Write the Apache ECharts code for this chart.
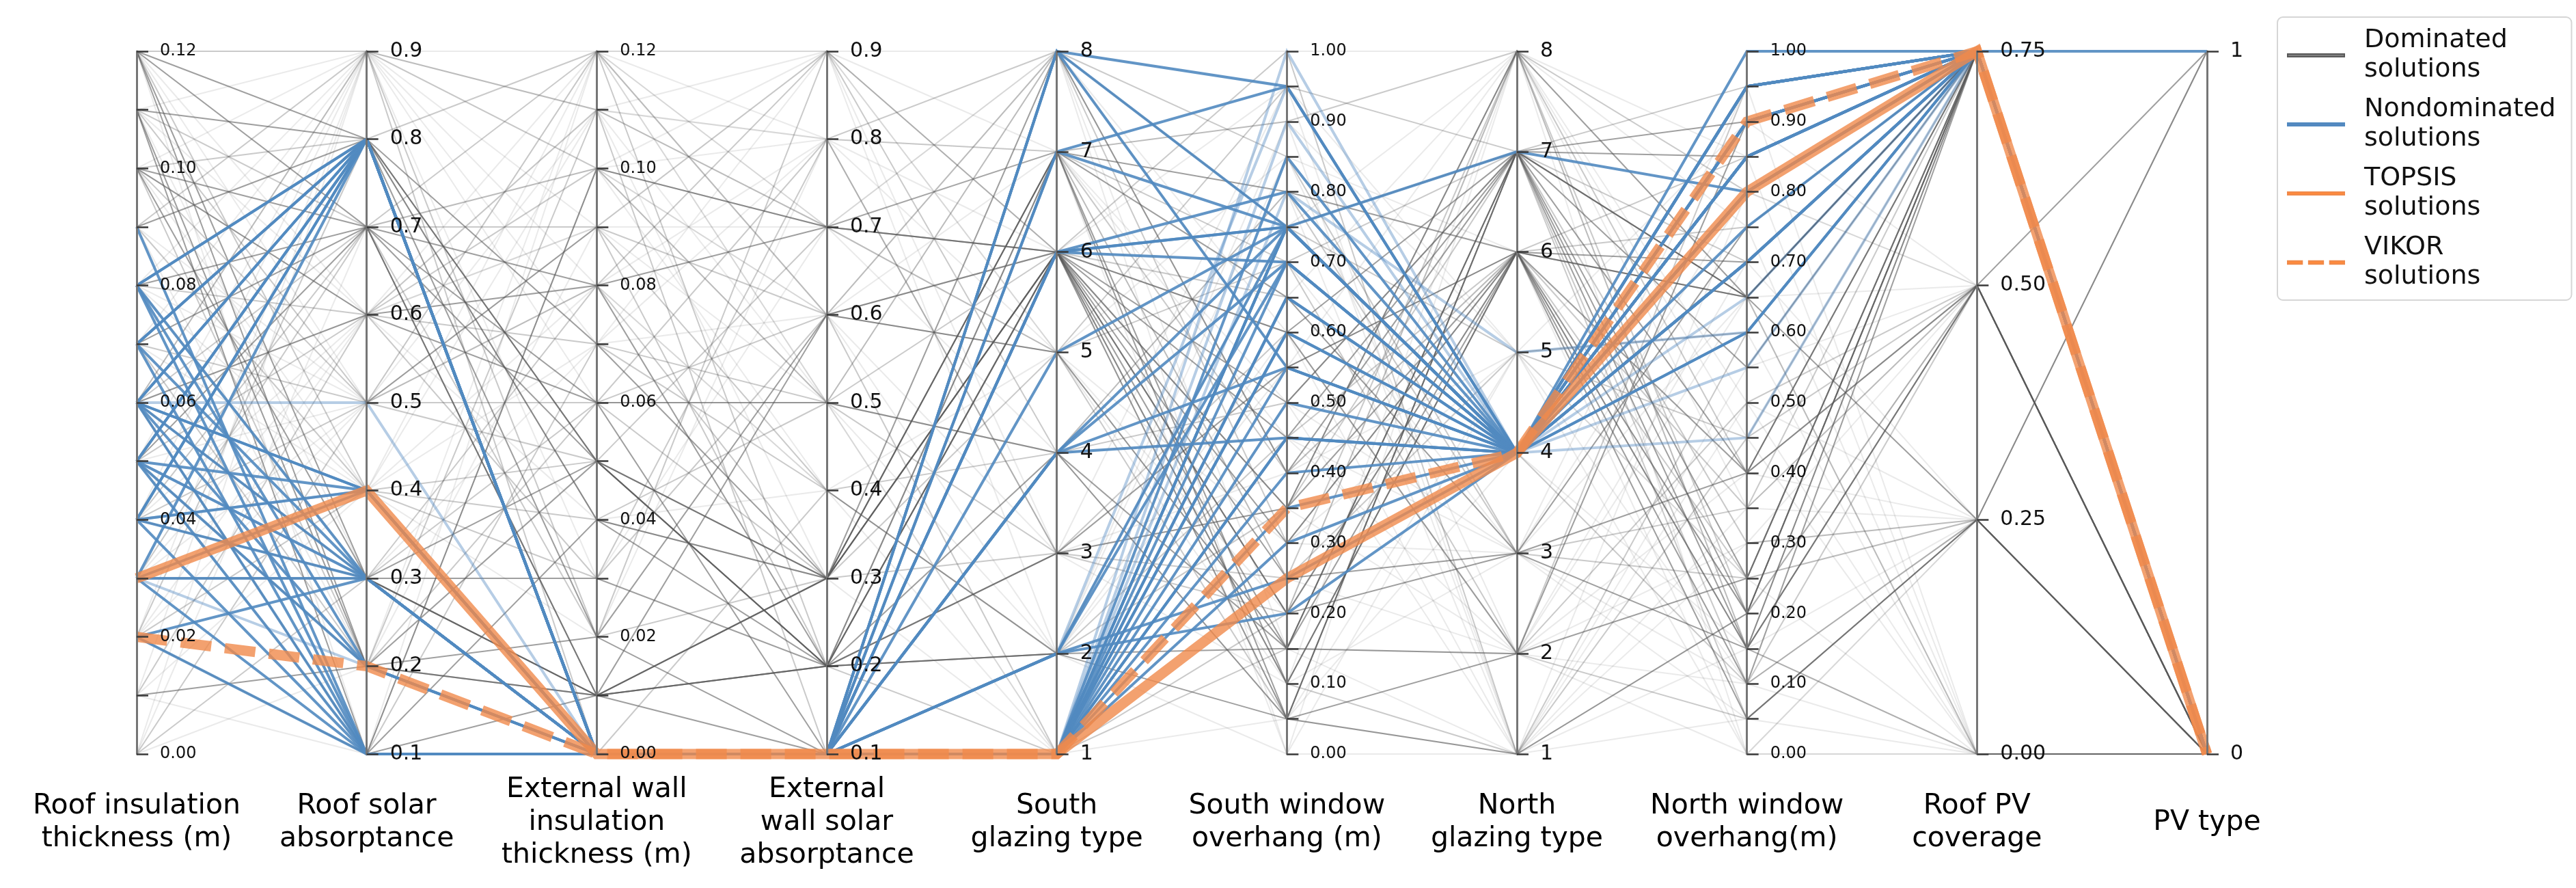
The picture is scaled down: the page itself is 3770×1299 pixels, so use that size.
<!DOCTYPE html>
<html><head><meta charset="utf-8">
<script src="https://cdn.jsdelivr.net/npm/echarts@6/dist/echarts.min.js"></script>
<style>html,body{margin:0;padding:0;background:#fff}#c{width:3770px;height:1299px}</style>
</head><body><div id="c"></div>
<script>
// ---------------- data ----------------
const axisNames = ['Roof insulation\nthickness (m)', 'Roof solar\nabsorptance', 'External wall\ninsulation\nthickness (m)', 'External\nwall solar\nabsorptance', 'South\nglazing type', 'South window\noverhang (m)', 'North\nglazing type', 'North window\noverhang(m)', 'Roof PV\ncoverage', 'PV type'];
const axisMin = [0, 0.1, 0, 0.1, 1, 0, 1, 0, 0, 0];
const axisMax = [0.12, 0.9, 0.12, 0.9, 8, 1, 8, 1, 0.75, 1];
const tickStep = [0.01, 0.1, 0.01, 0.1, 1, 0.05, 1, 0.05, 0.25, 1];
const labelStep = [0.02, 0.1, 0.02, 0.1, 1, 0.1, 1, 0.1, 0.25, 1];
const labelDecimals = [2, 1, 2, 1, 0, 2, 0, 2, 2, 0];
const legendNames = ['Dominated solutions', 'Nondominated solutions', 'TOPSIS solutions', 'VIKOR solutions'];

// each row: roof ins, roof abs, wall ins, wall abs, S glazing, S overhang, N glazing, N overhang, PV coverage, PV type
const topsis = [[0.03, 0.4, 0.00, 0.1, 1, 0.25, 4, 0.80, 0.75, 0]];
const vikor = [[0.02, 0.2, 0.00, 0.1, 1, 0.35, 4, 0.90, 0.75, 0]];

const nondominated = [
  [0.09, 0.1, 0, 0.1, 1, 0.60, 4, 0.95, 0.75, 0],
  [0.08, 0.8, 0, 0.1, 8, 0.95, 4, 1.00, 0.75, 1],
  [0.08, 0.3, 0, 0.1, 1, 0.75, 4, 0.85, 0.75, 0],
  [0.08, 0.2, 0, 0.1, 1, 0.45, 4, 0.70, 0.75, 0],
  [0.08, 0.1, 0, 0.1, 2, 0.75, 4, 0.60, 0.75, 0],
  [0.07, 0.8, 0, 0.1, 7, 0.95, 4, 0.90, 0.75, 0],
  [0.07, 0.1, 0, 0.1, 1, 0.65, 4, 0.80, 0.75, 0],
  [0.07, 0.3, 0, 0.1, 4, 0.70, 4, 0.85, 0.75, 0],
  [0.06, 0.8, 0, 0.1, 6, 0.75, 4, 0.95, 0.75, 0],
  [0.06, 0.8, 0, 0.1, 1, 0.85, 4, 0.80, 0.75, 0],
  [0.06, 0.4, 0, 0.1, 4, 0.55, 4, 0.70, 0.75, 0],
  [0.06, 0.3, 0, 0.1, 1, 0.50, 4, 0.90, 0.75, 0],
  [0.06, 0.2, 0, 0.1, 1, 0.40, 4, 0.85, 0.75, 0],
  [0.06, 0.1, 0, 0.1, 2, 0.20, 4, 0.95, 0.75, 0],
  [0.05, 0.8, 0, 0.1, 8, 0.75, 4, 0.85, 0.75, 0],
  [0.05, 0.4, 0, 0.1, 1, 0.75, 4, 0.80, 0.75, 0],
  [0.05, 0.3, 0, 0.1, 6, 0.70, 4, 0.70, 0.75, 0],
  [0.05, 0.1, 0, 0.1, 1, 0.30, 4, 0.90, 0.75, 0],
  [0.05, 0.2, 0, 0.1, 1, 0.55, 4, 0.60, 0.75, 0],
  [0.04, 0.8, 0, 0.1, 1, 0.75, 7, 0.80, 0.75, 0],
  [0.04, 0.4, 0, 0.1, 5, 0.75, 4, 0.95, 0.75, 0],
  [0.04, 0.3, 0, 0.1, 1, 0.35, 4, 0.85, 0.75, 0],
  [0.04, 0.1, 0, 0.1, 4, 0.45, 4, 0.90, 0.75, 0],
  [0.03, 0.8, 0, 0.1, 7, 0.75, 4, 0.70, 0.75, 0],
  [0.03, 0.3, 0, 0.1, 1, 0.60, 4, 0.95, 0.75, 0],
  [0.03, 0.1, 0, 0.1, 2, 0.25, 4, 0.80, 0.75, 0],
  [0.02, 0.3, 0, 0.1, 1, 0.65, 4, 0.90, 0.75, 0],
  [0.02, 0.1, 0, 0.1, 6, 0.75, 4, 0.85, 0.75, 0],
  [0.07, 0.8, 0, 0.1, 4, 0.75, 4, 0.75, 0.75, 0],
  [0.05, 0.8, 0, 0.1, 1, 0.70, 4, 0.95, 0.75, 0],
  [0.04, 0.8, 0, 0.1, 6, 0.80, 4, 0.85, 0.75, 0],
  [0.06, 0.4, 0, 0.1, 1, 0.45, 4, 0.80, 0.75, 0],
  [0.08, 0.8, 0, 0.1, 8, 0.55, 4, 0.90, 0.75, 0],
  [0.03, 0.4, 0, 0.1, 2, 0.70, 4, 0.70, 0.75, 0]
];
const nondominatedFaint = [
  [0.06, 0.5, 0, 0.1, 1, 0.90, 4, 0.55, 0.75, 0],
  [0.03, 0.2, 0, 0.1, 1, 0.80, 5, 0.60, 0.75, 0],
  [0.05, 0.3, 0, 0.1, 1, 1.00, 4, 0.45, 0.75, 0],
  [0.04, 0.4, 0, 0.1, 2, 0.95, 4, 0.65, 0.75, 0]
];

const dominatedDark = [
  [0.12, 0.8, 0.07, 0.3, 6, 0.15, 7, 0.65, 0.75, 0],
  [0.12, 0.3, 0.05, 0.2, 6, 0.10, 6, 0.40, 0.75, 0],
  [0.12, 0.2, 0.01, 0.2, 7, 0.05, 7, 0.20, 0.75, 0],
  [0.11, 0.8, 0.05, 0.3, 6, 0.30, 6, 0.65, 0.75, 0],
  [0.11, 0.1, 0.10, 0.7, 6, 0.60, 7, 0.15, 0.50, 1],
  [0.10, 0.7, 0.08, 0.7, 6, 0.20, 3, 0.40, 0.75, 0],
  [0.10, 0.3, 0.01, 0.3, 8, 0.75, 7, 0.25, 0.75, 0],
  [0.07, 0.7, 0.01, 0.6, 5, 0.15, 6, 0.10, 0.75, 0],
  [0.07, 0.8, 0.04, 0.2, 3, 0.55, 6, 0.65, 0.25, 1],
  [0.06, 0.6, 0.06, 0.5, 4, 0.15, 7, 0.90, 0.75, 0],
  [0.06, 0.3, 0.03, 0.2, 2, 0.15, 2, 0.25, 0.75, 0],
  [0.05, 0.7, 0.05, 0.3, 7, 0.10, 6, 0.15, 0.75, 0],
  [0.05, 0.2, 0.02, 0.1, 6, 0.45, 7, 0.40, 0.50, 0],
  [0.02, 0.1, 0.01, 0.2, 6, 0.05, 1, 0.20, 0.75, 0],
  [0.03, 0.3, 0.01, 0.3, 7, 0.80, 6, 0.05, 0.25, 0],
  [0.08, 0.7, 0.06, 0.1, 6, 0.25, 3, 0.75, 0.75, 0],
  [0.04, 0.3, 0.01, 0.2, 3, 0.35, 8, 0.65, 0.75, 0],
  [0.12, 0.7, 0.01, 0.3, 6, 0.50, 7, 0.85, 0.75, 0],
  [0.09, 0.8, 0.02, 0.6, 6, 0.35, 6, 0.20, 0.75, 0],
  [0.01, 0.2, 0.05, 0.2, 2, 0.05, 7, 0.65, 0.75, 0],
  [0.06, 0.1, 0.04, 0.3, 7, 0.65, 3, 0.15, 0.50, 0],
  [0.11, 0.2, 0.01, 0.1, 8, 0.40, 7, 0.55, 0.75, 0],
  [0.07, 0.8, 0.05, 0.2, 6, 0.20, 6, 0.70, 0.75, 0],
  [0.10, 0.6, 0.08, 0.2, 4, 0.05, 2, 0.90, 0.75, 0]
];
const dominatedMid = [
  [0.12, 0.9, 0.11, 0.7, 7, 0.90, 8, 0.40, 0.50, 0],
  [0.11, 0.7, 0.09, 0.6, 5, 0.70, 7, 0.30, 0.25, 0],
  [0.10, 0.5, 0.06, 0.8, 8, 0.55, 6, 0.15, 0.75, 0],
  [0.09, 0.4, 0.04, 0.5, 3, 0.25, 5, 0.60, 0.75, 0],
  [0.08, 0.6, 0.07, 0.4, 2, 0.35, 8, 0.20, 0.50, 0],
  [0.07, 0.5, 0.08, 0.9, 6, 0.60, 2, 0.05, 0.25, 0],
  [0.06, 0.7, 0.12, 0.2, 7, 0.40, 6, 0.75, 0.75, 0],
  [0.05, 0.6, 0.03, 0.6, 1, 0.15, 7, 0.95, 0.75, 0],
  [0.04, 0.5, 0.09, 0.4, 4, 0.80, 3, 0.35, 0.50, 0],
  [0.03, 0.7, 0.02, 0.3, 6, 0.10, 1, 0.45, 0.75, 0],
  [0.02, 0.4, 0.05, 0.7, 5, 0.95, 7, 0.65, 0.00, 0],
  [0.01, 0.6, 0.10, 0.5, 8, 0.30, 6, 0.25, 0.75, 0],
  [0.00, 0.3, 0.06, 0.3, 6, 0.65, 4, 0.10, 0.25, 0],
  [0.12, 0.4, 0.03, 0.8, 3, 0.20, 8, 0.80, 0.75, 0],
  [0.10, 0.2, 0.11, 0.1, 7, 0.70, 2, 0.50, 0.50, 0],
  [0.09, 0.9, 0.00, 0.4, 2, 0.45, 6, 0.35, 0.75, 0],
  [0.08, 0.3, 0.08, 0.3, 5, 0.05, 7, 0.70, 0.75, 0],
  [0.07, 0.2, 0.06, 0.6, 8, 0.85, 3, 0.25, 0.25, 1],
  [0.06, 0.9, 0.02, 0.9, 4, 0.50, 7, 0.10, 0.50, 0],
  [0.05, 0.1, 0.07, 0.5, 6, 1.00, 1, 0.60, 0.75, 0],
  [0.11, 0.5, 0.05, 0.2, 1, 0.20, 6, 0.85, 0.75, 0],
  [0.04, 0.7, 0.10, 0.7, 7, 0.25, 8, 0.15, 0.00, 0],
  [0.02, 0.8, 0.04, 0.3, 3, 0.60, 2, 0.95, 0.75, 0],
  [0.10, 0.8, 0.12, 0.6, 6, 0.35, 7, 0.05, 0.25, 0],
  [0.00, 0.5, 0.09, 0.2, 2, 0.75, 5, 0.45, 0.50, 0]
];
const dominatedFaint = [
  [0.12, 0.5, 0.12, 0.9, 8, 1.00, 8, 0.00, 0.00, 0],
  [0.11, 0.9, 0.10, 0.8, 7, 0.50, 1, 0.30, 0.25, 0],
  [0.10, 0.6, 0.12, 0.5, 2, 0.00, 5, 0.90, 0.50, 0],
  [0.09, 0.2, 0.09, 0.9, 5, 0.85, 2, 0.10, 0.00, 0],
  [0.08, 0.9, 0.11, 0.3, 1, 0.65, 8, 0.50, 0.25, 0],
  [0.07, 0.4, 0.07, 0.8, 3, 0.10, 3, 0.80, 0.50, 0],
  [0.06, 0.1, 0.12, 0.6, 8, 0.40, 6, 0.00, 0.00, 0],
  [0.05, 0.9, 0.08, 0.4, 2, 0.90, 1, 0.35, 0.25, 0],
  [0.04, 0.6, 0.11, 0.7, 5, 0.20, 8, 0.15, 0.00, 0],
  [0.03, 0.5, 0.09, 0.9, 7, 0.45, 2, 0.65, 0.50, 0],
  [0.02, 0.9, 0.12, 0.5, 4, 0.05, 5, 0.25, 0.25, 0],
  [0.01, 0.4, 0.08, 0.8, 6, 0.70, 3, 0.05, 0.00, 0],
  [0.00, 0.7, 0.10, 0.6, 3, 0.95, 1, 0.55, 0.50, 0],
  [0.12, 0.6, 0.04, 0.4, 5, 0.30, 5, 0.00, 0.25, 0],
  [0.11, 0.3, 0.07, 0.9, 2, 0.55, 8, 0.75, 0.00, 0],
  [0.10, 0.9, 0.03, 0.7, 8, 0.15, 2, 0.40, 0.25, 0],
  [0.09, 0.5, 0.11, 0.5, 4, 0.80, 1, 0.20, 0.50, 0],
  [0.08, 0.4, 0.02, 0.8, 7, 0.00, 8, 0.85, 0.00, 0],
  [0.07, 0.9, 0.10, 0.4, 1, 0.50, 3, 0.10, 0.25, 0],
  [0.06, 0.6, 0.09, 0.7, 6, 0.95, 5, 0.60, 0.00, 0],
  [0.05, 0.5, 0.12, 0.9, 3, 0.35, 2, 0.30, 0.50, 0],
  [0.04, 0.9, 0.06, 0.5, 8, 0.60, 1, 0.05, 0.25, 0],
  [0.03, 0.6, 0.11, 0.8, 5, 0.10, 8, 0.45, 0.00, 0],
  [0.02, 0.5, 0.08, 0.4, 2, 0.85, 6, 0.20, 0.50, 0],
  [0.01, 0.9, 0.07, 0.6, 7, 0.25, 2, 0.70, 0.25, 0],
  [0.00, 0.2, 0.12, 0.7, 4, 0.45, 3, 0.95, 0.00, 0],
  [0.12, 0.1, 0.10, 0.5, 1, 0.05, 1, 0.15, 0.00, 0],
  [0.11, 0.6, 0.09, 0.9, 6, 0.75, 8, 0.35, 0.50, 0],
  [0.10, 0.4, 0.11, 0.8, 3, 0.40, 5, 0.10, 0.25, 0],
  [0.08, 0.5, 0.12, 0.7, 8, 0.00, 1, 0.50, 0.00, 0],
  [0.06, 0.9, 0.10, 0.6, 2, 0.60, 2, 0.00, 0.25, 0],
  [0.04, 0.4, 0.12, 0.8, 7, 0.90, 5, 0.25, 0.00, 0],
  [0.02, 0.6, 0.11, 0.9, 5, 0.15, 1, 0.80, 0.50, 0],
  [0.00, 0.9, 0.09, 0.5, 1, 0.30, 3, 0.65, 0.00, 0],
  [0.01, 0.1, 0.10, 0.9, 6, 0.05, 4, 0.15, 0.25, 0]
];

// ---------------- styling ----------------
const FONT = 'DejaVu Sans';
const GRAY = '#5a5a5a', BLUE = '#5189c0', ORANGE = '#f08a4b';
const smallFontAxes = [0, 2, 5, 7];

function fmt(i) {
  return function (v) {
    const r = v / labelStep[i];
    return Math.abs(r - Math.round(r)) < 1e-6 ? v.toFixed(labelDecimals[i]) : '';
  };
}

const parallelAxis = [];
for (let i = 0; i < axisNames.length; i++) {
  const fs = smallFontAxes.includes(i) ? 24 : 30;
  parallelAxis.push({
    dim: i, parallelIndex: 0, type: 'value',
    min: axisMin[i], max: axisMax[i], interval: tickStep[i],
    name: axisNames[i], nameLocation: 'start', nameGap: 100,
    nameTextStyle: { fontFamily: FONT, fontSize: 41, lineHeight: 48, color: '#000', align: 'center', verticalAlign: 'middle' },
    axisLine: { show: true, lineStyle: { color: '#767676', width: 3 } },
    axisTick: { show: true, inside: false, length: 17, lineStyle: { color: '#3a3a3a', width: 2.5 } },
    axisLabel: { show: true, margin: 34, fontFamily: FONT, fontSize: fs, color: '#111', formatter: fmt(i), padding: [0, 0, 16, 0] },
    splitLine: { show: false }
  });
  parallelAxis.push({
    dim: i, parallelIndex: 1, type: 'value',
    min: axisMin[i], max: axisMax[i], interval: tickStep[i],
    name: '',
    axisLine: { show: false },
    axisTick: { show: true, inside: true, length: 17, lineStyle: { color: '#3a3a3a', width: 2.5 } },
    axisLabel: { show: false },
    splitLine: { show: false }
  });
}

const rect = { left: 200, right: 540, top: 75, bottom: 196 };

function pSeries(name, data, color, width, opacity, type) {
  return {
    type: 'parallel', name: name, parallelIndex: 0, data: data, silent: true,
    smooth: false, progressive: 0,
    lineStyle: { color: color, width: width, opacity: opacity, type: type || 'solid', cap: 'butt' },
    emphasis: { disabled: true }
  };
}

const option = {
  animation: false,
  backgroundColor: '#ffffff',
  parallel: [
    Object.assign({ layout: 'horizontal' }, rect),
    Object.assign({ layout: 'horizontal' }, rect)
  ],
  parallelAxis: parallelAxis,
  legend: {
    orient: 'vertical', left: 3333, top: 25,
    padding: [13, 23, 12, 14], itemGap: 15,
    itemWidth: 83, itemHeight: 5,
    selectedMode: false,
    borderColor: '#d6d6d6', borderWidth: 2, borderRadius: 8, backgroundColor: '#fff',
    textStyle: { fontFamily: FONT, fontSize: 38, lineHeight: 43, color: '#111', padding: [0, 0, 0, 24] },
    formatter: function (n) { return n.replace(' ', '\n'); },
    data: [
      { name: legendNames[0], icon: 'path://M0 0H83V4H0Z', itemStyle: { color: '#808080' } },
      { name: legendNames[1], icon: 'path://M0 0H83V4H0Z', itemStyle: { color: '#5589c0' } },
      { name: legendNames[2], icon: 'path://M0 0H83V4H0Z', itemStyle: { color: '#ff8a3d' } },
      { name: legendNames[3], icon: 'path://M0 0H20V4H0Z M29 0H49V4H29Z M58 0H78V4H58Z', itemStyle: { color: '#ff8a3d' } }
    ]
  },
  series: [
    pSeries(legendNames[0], dominatedFaint, GRAY, 2, 0.13),
    pSeries(legendNames[0], dominatedMid, GRAY, 2, 0.32),
    pSeries(legendNames[0], dominatedDark, GRAY, 2, 0.58),
    pSeries(legendNames[1], nondominatedFaint, BLUE, 4, 0.42),
    pSeries(legendNames[1], nondominated, BLUE, 4, 0.9),
    pSeries(legendNames[2], topsis, ORANGE, 15, 0.8),
    pSeries(legendNames[3], vikor, ORANGE, 15, 0.8, [45, 20])
  ]
};

const chart = echarts.init(document.getElementById('c'), null, { renderer: 'canvas' });
chart.setOption(option);
</script>
</body></html>
